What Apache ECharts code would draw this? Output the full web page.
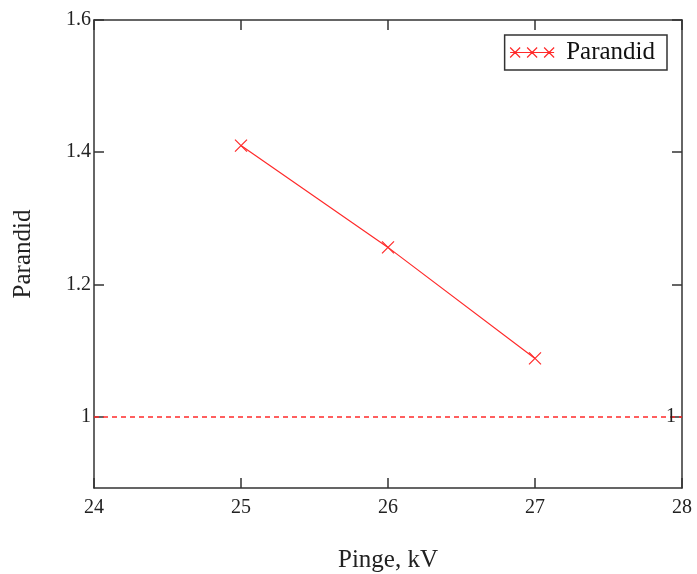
<!DOCTYPE html>
<html><head><meta charset="utf-8">
<script src="https://cdn.jsdelivr.net/npm/echarts@6/dist/echarts.min.js"></script>
<style>html,body{margin:0;padding:0;background:#fff}#c{width:697px;height:574px}</style>
</head><body><div id="c"></div>
<script>
const xValues = [25, 26, 27];
const parandid = [1.41, 1.256, 1.088];
const refLevel = 1;
const xTicks = [24, 25, 26, 27, 28];
const yTicks = [1, 1.2, 1.4, 1.6];
const seriesName = 'Parandid';
const xName = 'Pinge, kV';
const yName = 'Parandid';

const font = 'Liberation Serif';
const axisColor = '#333';
const red = '#ff2a2a';
const xMarker = 'path://M0,0L10,10M0,10L10,0';
const legendIcon = 'path://M0,6L44,6M0,1L10,11M0,11L10,1M17,1L27,11M17,11L27,1M34,1L44,11M34,11L44,1';

const chart = echarts.init(document.getElementById('c'));
const baseX = {
  type: 'value', min: 24, max: 28, interval: 1,
  axisLine: {show: true, lineStyle: {color: axisColor, width: 1.5}},
  splitLine: {show: false},
  axisTick: {show: true, inside: true, length: 10, lineStyle: {color: axisColor, width: 1.5}}
};
const baseY = {
  type: 'value', min: 0.892, max: 1.6,
  axisLine: {show: true, lineStyle: {color: axisColor, width: 1.5}},
  splitLine: {show: false},
  axisTick: {show: true, inside: true, length: 10, customValues: yTicks, lineStyle: {color: axisColor, width: 1.5}}
};
chart.setOption({
  animation: false,
  grid: {left: 94, top: 20, right: 15, bottom: 86, containLabel: false, outerBoundsMode: 'none'},
  xAxis: [
    Object.assign({}, baseX, {
      position: 'bottom',
      name: xName, nameLocation: 'middle', nameGap: 60,
      nameTextStyle: {fontFamily: font, fontSize: 25, color: '#222'},
      axisLabel: {fontFamily: font, fontSize: 20, color: '#222', margin: 10, customValues: xTicks}
    }),
    Object.assign({}, baseX, {position: 'top', axisLabel: {show: false}})
  ],
  yAxis: [
    Object.assign({}, baseY, {
      position: 'left',
      name: yName, nameLocation: 'middle', nameGap: 58, nameRotate: 90,
      nameTextStyle: {fontFamily: font, fontSize: 25, color: '#222'},
      axisLabel: {fontFamily: font, fontSize: 20, color: '#222', margin: 3, customValues: yTicks}
    }),
    Object.assign({}, baseY, {position: 'right', axisLabel: {show: false}})
  ],
  legend: {
    show: true, right: 30, top: 35,
    orient: 'horizontal',
    backgroundColor: '#fff', borderColor: '#333', borderWidth: 1.5,
    padding: [5, 12, 5, 3], itemWidth: 44, itemHeight: 12, itemGap: 0,
    textStyle: {fontFamily: font, fontSize: 25, color: '#111', padding: [0, 0, 0, 7]},
    data: [{name: seriesName, icon: legendIcon, itemStyle: {color: 'none', borderColor: red, borderWidth: 1.2}}]
  },
  series: [{
    name: seriesName, type: 'line',
    data: xValues.map((x, i) => [x, parandid[i]]),
    symbol: xMarker, symbolSize: 12,
    itemStyle: {color: 'none', borderColor: red, borderWidth: 1.2},
    lineStyle: {color: red, width: 1.2},
    markLine: {
      silent: true, symbol: 'none',
      data: [{yAxis: refLevel}],
      lineStyle: {color: red, type: [5, 4], width: 1.6},
      label: {show: true, position: 'end', formatter: String(refLevel), distance: -16, fontFamily: font, fontSize: 20, color: '#222'}
    }
  }]
});
</script></body></html>
